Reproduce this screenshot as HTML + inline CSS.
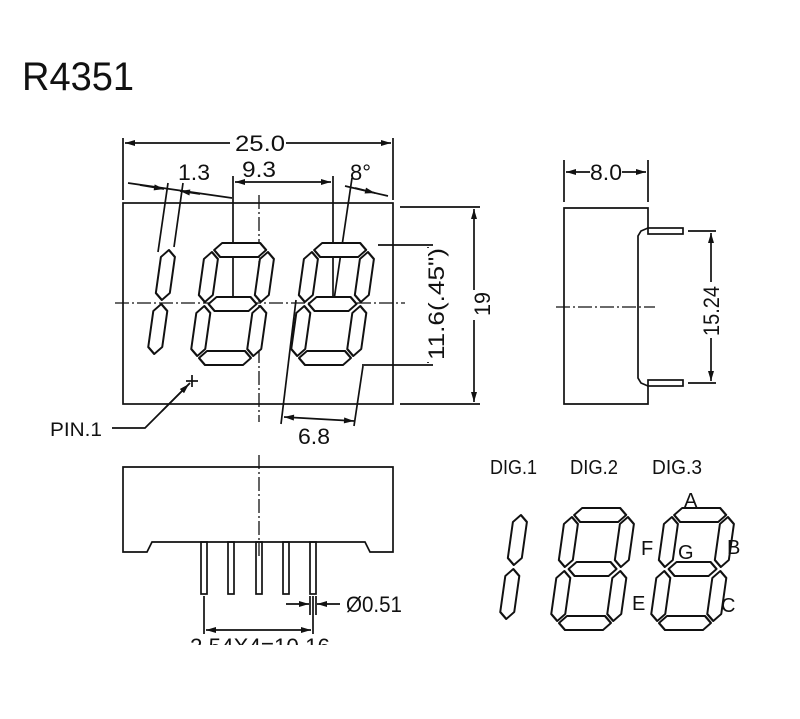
<!DOCTYPE html>
<html><head><style>
html,body{margin:0;padding:0;background:#fff;}
svg{display:block;}
text{font-family:"Liberation Sans",sans-serif;fill:#111;}
</style></head><body>
<svg width="800" height="719" viewBox="0 0 800 719" xmlns="http://www.w3.org/2000/svg">
<defs>
<marker id="ar" viewBox="0 0 10 6" refX="10" refY="3" markerWidth="11" markerHeight="6" orient="auto-start-reverse" markerUnits="userSpaceOnUse"><path d="M0,0 L10,3 L0,6 z" fill="#111"/></marker>
<g id="dig" fill="#fff" stroke="#111" stroke-width="2" stroke-linejoin="round">
<polygon points="9,-115 16,-122 54,-122 61,-115 54,-108 16,-108"/>
<polygon points="11,-61 18,-68 52,-68 59,-61 52,-54 18,-54"/>
<polygon points="9,-7 16,-14 54,-14 61,-7 54,0 16,0"/>
<polygon points="7,-113 14,-106 14,-70 7,-63 0,-70 0,-106"/>
<polygon points="63,-113 70,-106 70,-70 63,-63 56,-70 56,-106"/>
<polygon points="7,-59 14,-52 14,-16 7,-9 0,-16 0,-52"/>
<polygon points="63,-59 70,-52 70,-16 63,-9 56,-16 56,-52"/>
</g>
<g id="one" fill="#fff" stroke="#111" stroke-width="2" stroke-linejoin="round">
<polygon points="7,-113 14,-106 14,-70 7,-63 0,-70 0,-106"/>
<polygon points="7,-59 14,-52 14,-16 7,-9 0,-16 0,-52"/>
</g>
</defs>

<text x="22" y="90" font-size="40" textLength="112" lengthAdjust="spacingAndGlyphs">R4351</text>

<g stroke="#111" stroke-width="1.7" fill="none">
<rect x="123" y="203" width="270" height="201"/>
<line x1="123" y1="138" x2="123" y2="200"/>
<line x1="393" y1="138" x2="393" y2="200"/>
<line x1="125" y1="143" x2="230" y2="143" marker-start="url(#ar)"/>
<line x1="286" y1="143" x2="391" y2="143" marker-end="url(#ar)"/>
<line x1="233" y1="176" x2="233" y2="300"/>
<line x1="333" y1="176" x2="333" y2="300"/>
<line x1="235" y1="182" x2="331" y2="182" marker-start="url(#ar)" marker-end="url(#ar)"/>
<line x1="128" y1="183" x2="232" y2="198"/>
<line x1="140" y1="185" x2="164" y2="189" marker-end="url(#ar)"/>
<line x1="200" y1="194" x2="180" y2="191" marker-end="url(#ar)"/>
<line x1="168" y1="183" x2="158" y2="252"/>
<line x1="183" y1="183" x2="174" y2="247"/>
<line x1="352" y1="178" x2="334" y2="300"/>
<line x1="345" y1="186" x2="388" y2="196"/>
<line x1="355" y1="188" x2="375" y2="193" marker-end="url(#ar)"/>
<line x1="115" y1="303" x2="405" y2="303" stroke-dasharray="14,3,2,3" stroke-width="1.3"/>
<line x1="259" y1="195" x2="259" y2="422" stroke-dasharray="14,3,2,3" stroke-width="1.3"/>
<line x1="378" y1="245" x2="433" y2="245"/>
<line x1="362" y1="365" x2="433" y2="365"/>
<line x1="428" y1="247" x2="428" y2="363" marker-start="url(#ar)" marker-end="url(#ar)"/>
<line x1="400" y1="207" x2="480" y2="207"/>
<line x1="400" y1="404" x2="480" y2="404"/>
<line x1="474" y1="209" x2="474" y2="402" marker-start="url(#ar)" marker-end="url(#ar)"/>
<line x1="296" y1="300" x2="281" y2="424"/>
<line x1="363" y1="366" x2="354" y2="426"/>
<line x1="284" y1="417" x2="354" y2="421" marker-start="url(#ar)" marker-end="url(#ar)"/>
<polyline points="112,428 145,428 190,383"/>
<line x1="162" y1="411" x2="189" y2="384" marker-end="url(#ar)"/>
<line x1="186" y1="381" x2="198" y2="381"/>
<line x1="192" y1="375" x2="192" y2="387"/>

<path d="M123,467 L393,467 L393,552 L370,552 L365,542 L152,542 L147,552 L123,552 Z"/>
<rect x="201" y="542" width="6" height="52"/>
<rect x="228" y="542" width="6" height="52"/>
<rect x="256" y="542" width="6" height="52"/>
<rect x="283" y="542" width="6" height="52"/>
<rect x="310" y="542" width="6" height="52"/>
<line x1="259" y1="455" x2="259" y2="556" stroke-dasharray="14,3,2,3" stroke-width="1.3"/>
<line x1="204" y1="596" x2="204" y2="634"/>
<line x1="313" y1="596" x2="313" y2="634"/>
<line x1="206" y1="630" x2="311" y2="630" marker-start="url(#ar)" marker-end="url(#ar)"/>
<line x1="310" y1="596" x2="310" y2="615"/>
<line x1="316" y1="596" x2="316" y2="615"/>
<line x1="286" y1="604" x2="309" y2="604" marker-end="url(#ar)"/>
<line x1="340" y1="604" x2="317" y2="604" marker-end="url(#ar)"/>

<path d="M564,208 L648,208 L648,228 L641,231 L638,236 L638,378 L641,383 L648,386 L648,404 L564,404 Z"/>
<rect x="648" y="228" width="35" height="6"/>
<rect x="648" y="380" width="35" height="6"/>
<line x1="688" y1="231" x2="716" y2="231"/>
<line x1="688" y1="383" x2="716" y2="383"/>
<line x1="711" y1="233" x2="711" y2="381" marker-start="url(#ar)" marker-end="url(#ar)"/>
<line x1="564" y1="160" x2="564" y2="202"/>
<line x1="648" y1="160" x2="648" y2="202"/>
<line x1="566" y1="172" x2="590" y2="172" marker-start="url(#ar)"/>
<line x1="622" y1="172" x2="646" y2="172" marker-end="url(#ar)"/>
<line x1="556" y1="307" x2="655" y2="307" stroke-dasharray="14,3,2,3" stroke-width="1.3"/>
</g>

<use href="#one" transform="translate(146,363) skewX(-8)"/>
<use href="#dig" transform="translate(189,365) skewX(-8)"/>
<use href="#dig" transform="translate(289,365) skewX(-8)"/>
<use href="#one" transform="translate(498,628) skewX(-8)"/>
<use href="#dig" transform="translate(549,630) skewX(-8)"/>
<use href="#dig" transform="translate(649,630) skewX(-8)"/>

<rect x="232" y="132" width="52" height="20" fill="#fff"/>
<text x="235" y="151" font-size="22" textLength="50" lengthAdjust="spacingAndGlyphs">25.0</text>
<text x="178" y="180" font-size="22" textLength="32" lengthAdjust="spacingAndGlyphs">1.3</text>
<text x="242" y="177" font-size="22" textLength="34" lengthAdjust="spacingAndGlyphs">9.3</text>
<text x="350" y="180" font-size="22">8°</text>
<rect x="420" y="248" width="18" height="114" fill="#fff"/>
<text transform="translate(444,360) rotate(-90)" font-size="22" textLength="112" lengthAdjust="spacingAndGlyphs">11.6(.45")</text>
<rect x="466" y="290" width="18" height="30" fill="#fff"/>
<text transform="translate(490,316) rotate(-90)" font-size="22" textLength="24" lengthAdjust="spacingAndGlyphs">19</text>
<text x="298" y="444" font-size="22" textLength="32" lengthAdjust="spacingAndGlyphs">6.8</text>
<text x="50" y="436" font-size="19" textLength="52" lengthAdjust="spacingAndGlyphs">PIN.1</text>
<text x="346" y="612" font-size="22" textLength="56" lengthAdjust="spacingAndGlyphs">Ø0.51</text>
<text x="190" y="654" font-size="22" textLength="140" lengthAdjust="spacingAndGlyphs">2.54X4=10.16</text>
<rect x="0" y="645" width="800" height="74" fill="#fff"/>
<text x="590" y="180" font-size="22" textLength="32" lengthAdjust="spacingAndGlyphs">8.0</text>
<rect x="702" y="282" width="18" height="56" fill="#fff"/>
<text transform="translate(719,336) rotate(-90)" font-size="22" textLength="50" lengthAdjust="spacingAndGlyphs">15.24</text>
<text x="490" y="474" font-size="20" textLength="47" lengthAdjust="spacingAndGlyphs">DIG.1</text>
<text x="570" y="474" font-size="20" textLength="48" lengthAdjust="spacingAndGlyphs">DIG.2</text>
<text x="652" y="474" font-size="20" textLength="50" lengthAdjust="spacingAndGlyphs">DIG.3</text>
<text x="684" y="507" font-size="20">A</text>
<text x="641" y="555" font-size="20">F</text>
<text x="678" y="559" font-size="20">G</text>
<text x="727" y="554" font-size="20">B</text>
<text x="632" y="610" font-size="20">E</text>
<text x="721" y="612" font-size="20">C</text>
</svg>
</body></html>
